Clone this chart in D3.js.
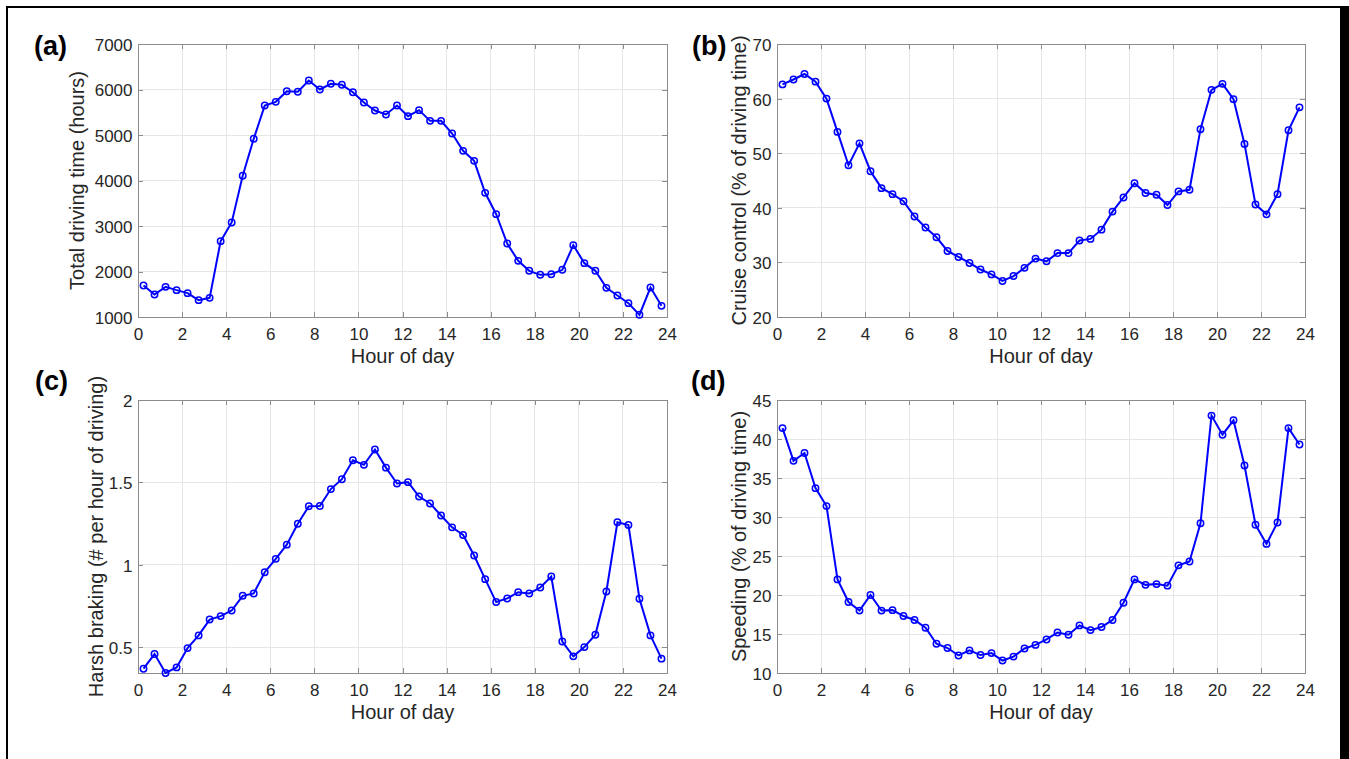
<!DOCTYPE html>
<html>
<head>
<meta charset="utf-8">
<script src="https://cdn.jsdelivr.net/npm/d3@7"></script>
<style>
    body { margin: 0; background: #fff; }
    text { font-family: "Liberation Sans", Arial, sans-serif; }
</style>
</head>
<body>
<div id="chart"></div>
<script>
// half-hour bin centres
var hours = [0.25, 0.75, 1.25, 1.75, 2.25, 2.75, 3.25, 3.75, 4.25, 4.75, 5.25, 5.75,
    6.25, 6.75, 7.25, 7.75, 8.25, 8.75, 9.25, 9.75, 10.25, 10.75, 11.25, 11.75,
    12.25, 12.75, 13.25, 13.75, 14.25, 14.75, 15.25, 15.75, 16.25, 16.75, 17.25, 17.75,
    18.25, 18.75, 19.25, 19.75, 20.25, 20.75, 21.25, 21.75, 22.25, 22.75, 23.25, 23.75];

// (a) total driving time, hours
var drivingTime = [1692, 1495, 1663, 1590, 1524, 1370, 1421, 2667, 3077, 4103, 4916, 5648,
    5729, 5963, 5949, 6198, 6000, 6125, 6103, 5941, 5714, 5538, 5451, 5648,
    5414, 5546, 5311, 5311, 5033, 4652, 4432, 3729, 3260, 2615, 2234, 2015,
    1927, 1941, 2037, 2579, 2183, 2015, 1641, 1473, 1304, 1048, 1648, 1245];

// (b) cruise control, % of driving time
var cruiseControl = [62.6, 63.5, 64.5, 63.1, 60.0, 53.9, 47.8, 51.8, 46.7, 43.6, 42.5, 41.2,
    38.4, 36.4, 34.6, 32.1, 31.0, 29.9, 28.7, 27.8, 26.6, 27.5, 29.0, 30.7,
    30.2, 31.7, 31.7, 34.0, 34.3, 36.0, 39.3, 41.9, 44.5, 42.7, 42.4, 40.5,
    43.0, 43.3, 54.4, 61.6, 62.7, 59.9, 51.7, 40.6, 38.8, 42.5, 54.2, 58.4];

// (c) harsh braking, events per hour of driving
var harshBraking = [0.371, 0.46, 0.345, 0.379, 0.496, 0.573, 0.669, 0.69, 0.724, 0.813, 0.827, 0.956,
    1.037, 1.123, 1.25, 1.356, 1.357, 1.46, 1.52, 1.635, 1.607, 1.70, 1.59, 1.494,
    1.502, 1.415, 1.373, 1.30, 1.228, 1.182, 1.057, 0.914, 0.775, 0.797, 0.835, 0.827,
    0.863, 0.93, 0.536, 0.446, 0.502, 0.577, 0.839, 1.259, 1.242, 0.795, 0.573, 0.432];

// (d) speeding, % of driving time
var speeding = [41.4, 37.2, 38.2, 33.7, 31.4, 22.0, 19.1, 18.0, 20.0, 18.0, 18.06, 17.3,
    16.8, 15.8, 13.75, 13.2, 12.25, 12.9, 12.3, 12.55, 11.6, 12.1, 13.15, 13.6,
    14.3, 15.2, 14.9, 16.1, 15.5, 15.9, 16.8, 19.0, 22.0, 21.3, 21.4, 21.2,
    23.8, 24.3, 29.2, 43.0, 40.55, 42.4, 36.6, 29.0, 26.55, 29.3, 41.4, 39.3];

// tick values
var hourTicks = [0, 2, 4, 6, 8, 10, 12, 14, 16, 18, 20, 22, 24];
var drivingTicks = [1000, 2000, 3000, 4000, 5000, 6000, 7000];
var cruiseTicks = [20, 30, 40, 50, 60, 70];
var brakingTicks = [0.5, 1, 1.5, 2];
var speedingTicks = [10, 15, 20, 25, 30, 35, 40, 45];

var panelLetters = ['(a)', '(b)', '(c)', '(d)'];
var yLabels = ['Total driving time (hours)', 'Cruise control (% of driving time)',
    'Harsh braking (# per hour of driving)', 'Speeding (% of driving time)'];
var xLabel = 'Hour of day';

var width = 1349,
    height = 759,
    boxColor = '#8c8c8c',
    gridColor = '#e6e6e6',
    textColor = '#262626',
    lineColor = '#0000ff';

var svg = d3.select('#chart').append('svg')
    .attr('width', width)
    .attr('height', height);

// figure frame (bottom edge runs off the picture)
svg.append('path')
    .attr('d', 'M7,760V7H1341V760')
    .attr('fill', 'none')
    .attr('stroke', '#000')
    .attr('stroke-width', 2);
svg.append('rect')
    .attr('x', 1340).attr('y', 6).attr('width', 9).attr('height', 753)
    .attr('fill', '#000');

// layout of each axes box
var panels = [
    { values: drivingTime, domain: [1000, 7000], ticks: drivingTicks, fmt: d3.format('d'),
      left: 138, top: 44, w: 529, labelX: -54, letterX: 34, letterY: 55 },
    { values: cruiseControl, domain: [20, 70], ticks: cruiseTicks, fmt: d3.format('d'),
      left: 777, top: 44, w: 528, labelX: -31, letterX: 692, letterY: 55 },
    { values: harshBraking, domain: [0.345, 2], ticks: brakingTicks, fmt: function (d) { return String(d); },
      left: 138, top: 400, w: 529, labelX: -35, letterX: 35, letterY: 390 },
    { values: speeding, domain: [10, 45], ticks: speedingTicks, fmt: d3.format('d'),
      left: 777, top: 400, w: 528, labelX: -31, letterX: 691, letterY: 390 }
];

var plotHeight = 273;

panels.forEach(function (p, i) {
    var g = svg.append('g').attr('transform', 'translate(' + p.left + ',' + p.top + ')'),
        x = d3.scaleLinear().domain([0, 24]).range([0, p.w]),
        y = d3.scaleLinear().domain(p.domain).range([plotHeight, 0]);

    // grid
    var grid = g.append('g').attr('shape-rendering', 'crispEdges');
    grid.selectAll('.vgrid').data(hourTicks).enter().append('line')
        .attr('x1', function (d) { return x(d); }).attr('x2', function (d) { return x(d); })
        .attr('y1', 0).attr('y2', plotHeight)
        .attr('stroke', gridColor);
    grid.selectAll('.hgrid').data(p.ticks).enter().append('line')
        .attr('x1', 0).attr('x2', p.w)
        .attr('y1', function (d) { return y(d); }).attr('y2', function (d) { return y(d); })
        .attr('stroke', gridColor);

    // axes, ticks pointing inwards on all four sides
    var bottom = g.append('g').attr('transform', 'translate(0,' + plotHeight + ')')
        .call(d3.axisBottom(x).tickValues(hourTicks).tickSizeInner(-5).tickSizeOuter(0).tickPadding(10.5));
    var left = g.append('g')
        .call(d3.axisLeft(y).tickValues(p.ticks).tickFormat(p.fmt).tickSizeInner(-5).tickSizeOuter(0).tickPadding(5.5));
    var top = g.append('g')
        .call(d3.axisTop(x).tickValues(hourTicks).tickSizeInner(-5).tickSizeOuter(0).tickFormat(''));
    var right = g.append('g').attr('transform', 'translate(' + p.w + ',0)')
        .call(d3.axisRight(y).tickValues(p.ticks).tickSizeInner(-5).tickSizeOuter(0).tickFormat(''));

    [bottom, left, top, right].forEach(function (a) {
        a.select('.domain').remove();
        a.selectAll('line').attr('stroke', boxColor).attr('shape-rendering', 'crispEdges');
        a.selectAll('text')
            .attr('fill', textColor)
            .style('font-size', '17px');
    });
    left.selectAll('text').attr('dy', '0.38em');

    g.append('rect')
        .attr('width', p.w).attr('height', plotHeight)
        .attr('fill', 'none')
        .attr('stroke', boxColor)
        .attr('shape-rendering', 'crispEdges');

    // data line with hollow circle markers
    var line = d3.line()
        .x(function (d, j) { return x(hours[j]); })
        .y(function (d) { return y(d); });

    g.append('path')
        .datum(p.values)
        .attr('d', line)
        .attr('fill', 'none')
        .attr('stroke', lineColor)
        .attr('stroke-width', 2);

    g.selectAll('.marker').data(p.values).enter().append('circle')
        .attr('cx', function (d, j) { return x(hours[j]); })
        .attr('cy', function (d) { return y(d); })
        .attr('r', 3.2)
        .attr('fill', 'none')
        .attr('stroke', lineColor)
        .attr('stroke-width', 1.5);

    // labels
    g.append('text')
        .attr('x', p.w / 2).attr('y', plotHeight + 45.5)
        .attr('text-anchor', 'middle')
        .attr('fill', textColor)
        .style('font-size', '20px')
        .text(xLabel);

    g.append('text')
        .attr('transform', 'translate(' + p.labelX + ',' + plotHeight / 2 + ') rotate(-90)')
        .attr('text-anchor', 'middle')
        .attr('fill', textColor)
        .style('font-size', '20px')
        .text(yLabels[i]);

    svg.append('text')
        .attr('x', p.letterX).attr('y', p.letterY)
        .attr('fill', '#000')
        .style('font-size', '27px')
        .style('font-weight', 'bold')
        .text(panelLetters[i]);
});
</script>
</body>
</html>
